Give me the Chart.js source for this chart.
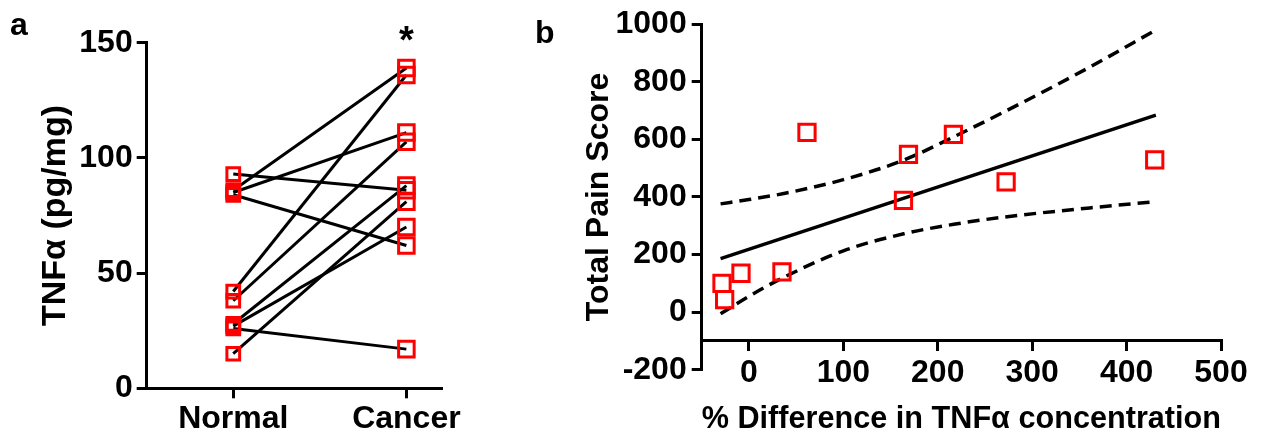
<!DOCTYPE html>
<html>
<head>
<meta charset="utf-8">
<script src="https://cdn.jsdelivr.net/npm/chart.js@4"></script>
<style>
  html, body { margin: 0; padding: 0; background: #fff; }
  #wrap { position: relative; width: 1266px; height: 439px; }
  .panel { position: absolute; top: 0; height: 439px; }
  #panelA { left: 0; width: 470px; }
  #panelB { left: 520px; width: 746px; }
</style>
</head>
<body>
<div id="wrap">
  <div class="panel" id="panelA"><canvas id="chartA"></canvas></div>
  <div class="panel" id="panelB"><canvas id="chartB"></canvas></div>
</div>
<script>
// Panel a: paired TNFα values (pg/mg), one pair per subject
const groups = ['Normal', 'Cancer'];
const normalTnf = [93, 86, 85, 84, 42, 38, 28, 27, 26, 15];
const cancerTnf = [86, 139, 111, 62, 136, 107, 88, 70, 17, 81];
const tnfTicks = [0, 50, 100, 150];

// Panel b: pain score vs % difference, with fit line and 95% band
const pctDiff = [-28.5, -25.7, -8.4, 35, 61.5, 163.7, 169, 216.6, 272.4, 429.8];
const painScore = [100, 43, 135, 140, 624, 388, 548, 617, 452, 529];
const fitX = [-30, 431];
const fitY = [186, 684];
const bandX = [-30, 0, 37, 100, 164, 217, 270, 361, 431];
const bandUpper = [376, 391, 412, 460, 528, 609, 695, 851, 980];
const bandLower = [-6, 55, 121, 213, 272, 305, 330, 362, 384];
const pctTicks = [0, 100, 200, 300, 400, 500];
const painTicks = [-200, 0, 200, 400, 600, 800, 1000];

const FONT = '"Liberation Sans", Arial, Helvetica, sans-serif';
Chart.defaults.font.family = FONT;
Chart.defaults.font.size = 32;
Chart.defaults.font.weight = 'bold';
Chart.defaults.color = '#000';

// panel letters and the significance star
const textMarks = {
  id: 'textMarks',
  afterDraw(chart, args, opts) {
    const ctx = chart.ctx;
    ctx.save();
    ctx.fillStyle = '#000';
    ctx.textBaseline = 'alphabetic';
    (opts.items || []).forEach(it => {
      ctx.font = 'bold ' + it.size + 'px ' + FONT;
      ctx.textAlign = it.align || 'left';
      const x = it.xValue !== undefined ? chart.scales.x.getPixelForValue(it.xValue) : it.x;
      ctx.fillText(it.text, x, it.y);
    });
    ctx.restore();
  }
};

const axisGrid = { display: true, drawOnChartArea: false, drawTicks: true, tickLength: 10, color: '#000', lineWidth: 3 };
const axisBorder = { display: true, color: '#000', width: 3 };
const openSquare = { pointStyle: 'rect', borderColor: '#ff0000', borderWidth: 3, backgroundColor: 'rgba(0,0,0,0)', showLine: false };
const plainNumber = v => String(v);

// Chart a
const pairLines = normalTnf.map((n, i) => ({
  data: [{ x: 1, y: n }, { x: 2, y: cancerTnf[i] }],
  showLine: true, borderColor: '#000', borderWidth: 3, pointRadius: 0, order: 2
}));

new Chart(document.getElementById('chartA'), {
  type: 'scatter',
  data: {
    datasets: [
      Object.assign({ data: normalTnf.map(v => ({ x: 1, y: v })), pointRadius: 9, order: 1 }, openSquare),
      Object.assign({ data: cancerTnf.map(v => ({ x: 2, y: v })), pointRadius: 11, order: 1 }, openSquare),
      ...pairLines
    ]
  },
  options: {
    responsive: true,
    maintainAspectRatio: false,
    animation: false,
    clip: false,
    layout: { padding: { top: 42.7, right: 29, bottom: 0, left: 0 } },
    plugins: {
      legend: { display: false },
      tooltip: { enabled: false },
      textMarks: { items: [
        { text: 'a', x: 10, y: 35, size: 32 },
        { text: '*', xValue: 2, y: 53, size: 38, align: 'center' }
      ] }
    },
    scales: {
      x: {
        type: 'linear', min: 0.5, max: 2.2,
        afterBuildTicks: s => { s.ticks = [1, 2].map(v => ({ value: v })); },
        afterFit: s => { s.height = 50.7; },
        ticks: { callback: v => groups[v - 1], padding: 2, maxRotation: 0, autoSkip: false },
        grid: axisGrid,
        border: axisBorder
      },
      y: {
        type: 'linear', min: 0, max: 150,
        afterBuildTicks: s => { s.ticks = tnfTicks.map(v => ({ value: v })); },
        afterFit: s => { s.width = 146.7; },
        ticks: { padding: 4, callback: plainNumber },
        grid: axisGrid,
        border: axisBorder,
        title: { display: true, text: 'TNFα (pg/mg)', font: { size: 34 }, padding: { top: 35, bottom: 0 } }
      }
    }
  },
  plugins: [textMarks]
});

// Chart b
const toPts = (xs, ys) => xs.map((x, i) => ({ x: x, y: ys[i] }));

new Chart(document.getElementById('chartB'), {
  type: 'scatter',
  data: {
    datasets: [
      Object.assign({ data: toPts(pctDiff, painScore), pointRadius: 11.5, order: 1 }, openSquare),
      { data: toPts(fitX, fitY), showLine: true, borderColor: '#000', borderWidth: 3.5, pointRadius: 0, order: 2 },
      { data: toPts(bandX, bandUpper), showLine: true, borderColor: '#000', borderWidth: 3.5, borderDash: [12, 7],
        cubicInterpolationMode: 'monotone', pointRadius: 0, order: 2 },
      { data: toPts(bandX, bandLower), showLine: true, borderColor: '#000', borderWidth: 3.5, borderDash: [12, 7],
        cubicInterpolationMode: 'monotone', pointRadius: 0, order: 2 }
    ]
  },
  options: {
    responsive: true,
    maintainAspectRatio: false,
    animation: false,
    clip: false,
    layout: { padding: { top: 21.7, right: 45, bottom: 69.3, left: 0 } },
    plugins: {
      legend: { display: false },
      tooltip: { enabled: false },
      textMarks: { items: [ { text: 'b', x: 15, y: 43, size: 32 } ] }
    },
    scales: {
      x: {
        type: 'linear', min: -50, max: 500,
        position: { y: -100 },
        afterBuildTicks: s => { s.ticks = pctTicks.map(v => ({ value: v })); },
        ticks: { padding: 4, maxRotation: 0, autoSkip: false, callback: plainNumber },
        grid: Object.assign({}, axisGrid, { tickLength: 9 }),
        border: axisBorder,
        title: { display: true, text: '% Difference in TNFα concentration', padding: { top: 4, bottom: 0 } }
      },
      y: {
        type: 'linear', min: -200, max: 1000,
        afterBuildTicks: s => { s.ticks = painTicks.map(v => ({ value: v })); },
        afterFit: s => { s.width = 181.7; },
        ticks: { padding: 5, callback: plainNumber },
        grid: axisGrid,
        border: axisBorder,
        title: { display: true, text: 'Total Pain Score', padding: { top: 60, bottom: 0 } }
      }
    }
  },
  plugins: [textMarks]
});
</script>
</body>
</html>
